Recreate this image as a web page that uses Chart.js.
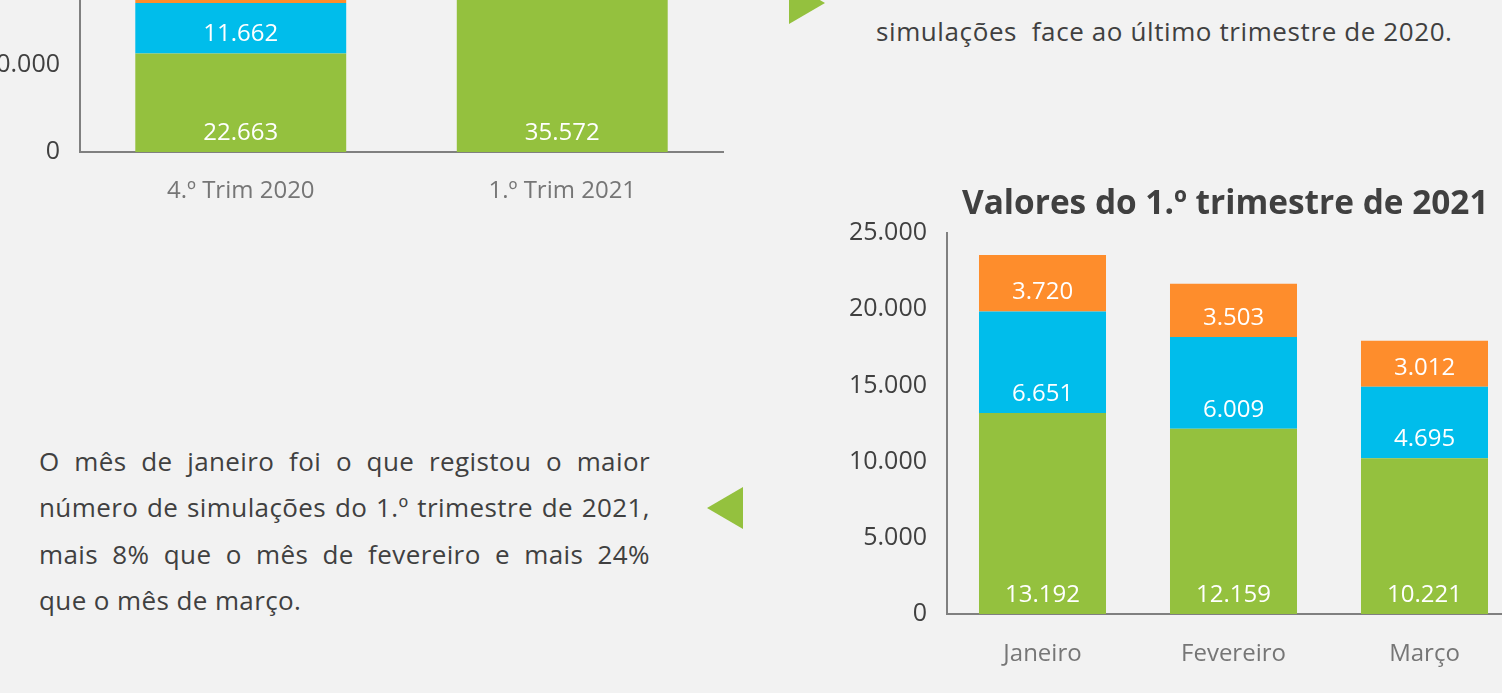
<!DOCTYPE html>
<html lang="pt">
<head>
<meta charset="utf-8">
<script src="https://cdn.jsdelivr.net/npm/chart.js@4/dist/chart.umd.min.js"></script>
<style>
  html, body { margin: 0; padding: 0; }
  body {
    width: 1502px; height: 693px; overflow: hidden; position: relative;
    background: #f2f2f2; font-family: "Open Sans", sans-serif; color: #404040;
  }
  .wrap { position: absolute; }
  .tri { position: absolute; width: 0; height: 0; }
  #tri-top { left: 789px; top: -18px; border-top: 21px solid transparent; border-bottom: 21px solid transparent; border-left: 36px solid #94c13e; }
  #tri-mid { left: 707px; top: 487px; border-top: 21px solid transparent; border-bottom: 21px solid transparent; border-right: 36px solid #94c13e; }
  #top-text { position: absolute; left: 876px; top: 12px; font-size: 26px; letter-spacing: 0.6px; line-height: 38px; white-space: pre; }
  #para { position: absolute; left: 39px; top: 438px; width: 611px; font-size: 26px; letter-spacing: 0.4px; }
  #para div { height: 46.3px; line-height: 46.3px; text-align: justify; text-align-last: justify; white-space: nowrap; }
  #para div.last { text-align-last: left; }
  #title2 { position: absolute; left: 962px; top: 180px; font-size: 33.4px; font-weight: 700; line-height: 42px; white-space: nowrap; color: #404040; }
</style>
</head>
<body>
<div class="wrap" id="wrap1" style="left:0; top:-187px; width:730px; height:399px;"><canvas id="chart1"></canvas></div>
<div class="wrap" id="wrap2" style="left:847px; top:198px; width:673px; height:476px;"><canvas id="chart2"></canvas></div>

<div class="tri" id="tri-top"></div>
<div id="top-text">simulações  face ao último trimestre de 2020.</div>

<div id="title2">Valores do 1.º trimestre de 2021</div>

<div class="tri" id="tri-mid"></div>
<div id="para">
  <div>O mês de janeiro foi o que registou o maior</div>
  <div>número de simulações do 1.º trimestre de 2021,</div>
  <div>mais 8% que o mês de fevereiro e mais 24%</div>
  <div class="last">que o mês de março.</div>
</div>

<script>
// trimestres
const trimLabels = ["4.º Trim 2020", "1.º Trim 2021"];
const trimGreen = [22663, 35572];
const trimBlue = [11662, 17355];
const trimOrange = [6100, 10235]; // 4.º trim laranja fica fora da imagem (estimado)
const trimTicks = [0, 20000, 40000, 60000];

// meses do 1.º trimestre
const monthLabels = ["Janeiro", "Fevereiro", "Março"];
const monthGreen = [13192, 12159, 10221];
const monthBlue = [6651, 6009, 4695];
const monthOrange = [3720, 3503, 3012];
const monthTicks = [0, 5000, 10000, 15000, 20000, 25000];

const GREEN = "#94c13e";
const BLUE = "#00bdeb";
const ORANGE = "#fe8d2c";

Chart.defaults.font.family = "'Open Sans', sans-serif";

function fmt(v) {
  return String(Math.round(v)).replace(/\B(?=(\d{3})+(?!\d))/g, ".");
}

// rotulos brancos junto a base de cada segmento
const baseLabels = {
  id: "baseLabels",
  afterDatasetsDraw(chart) {
    const ctx = chart.ctx;
    ctx.save();
    ctx.fillStyle = "#ffffff";
    ctx.font = "24px 'Open Sans', sans-serif";
    ctx.textAlign = "center";
    ctx.textBaseline = "middle";
    chart.data.datasets.forEach((ds, i) => {
      const meta = chart.getDatasetMeta(i);
      meta.data.forEach((bar, j) => {
        const bottom = Math.max(bar.base, bar.y);
        ctx.fillText(fmt(ds.data[j]), bar.x, bottom - 19);
      });
    });
    ctx.restore();
  }
};

function makeChart(id, labels, green, blue, orange, opts) {
  const ctx = document.getElementById(id).getContext("2d");
  return new Chart(ctx, {
    type: "bar",
    data: {
      labels: labels,
      datasets: [
        { data: green, backgroundColor: GREEN },
        { data: blue, backgroundColor: BLUE },
        { data: orange, backgroundColor: ORANGE }
      ]
    },
    plugins: [baseLabels],
    options: {
      responsive: true,
      maintainAspectRatio: false,
      animation: false,
      layout: { padding: { top: 0, right: opts.padRight, bottom: 0, left: 0 } },
      datasets: { bar: { categoryPercentage: 1, barPercentage: opts.barPct } },
      plugins: { legend: { display: false }, tooltip: { enabled: false } },
      scales: {
        x: {
          stacked: true,
          grid: { display: false, drawTicks: false },
          border: { display: true, color: "#808080", width: 2 },
          ticks: { color: "#767676", font: { size: 24 }, padding: opts.xPad },
          afterFit: (s) => { s.height = 60; }
        },
        y: {
          stacked: true,
          min: 0,
          max: opts.max,
          grid: { display: false, drawTicks: false },
          border: { display: true, color: "#808080", width: 2 },
          ticks: { color: "#404040", font: { size: 25 }, padding: 20, callback: (v) => fmt(v) },
          afterBuildTicks: (s) => { s.ticks = opts.ticks.map((v) => ({ value: v })); },
          afterFit: (s) => { s.width = opts.axisW; }
        }
      }
    }
  });
}

makeChart("chart1", trimLabels, trimGreen, trimBlue, trimOrange,
  { max: 70000, ticks: trimTicks, barPct: 0.656, axisW: 80, padRight: 7, xPad: 25 });
makeChart("chart2", monthLabels, monthGreen, monthBlue, monthOrange,
  { max: 25000, ticks: monthTicks, barPct: 0.665, axisW: 100, padRight: 0, xPad: 26 });
</script>
</body>
</html>
